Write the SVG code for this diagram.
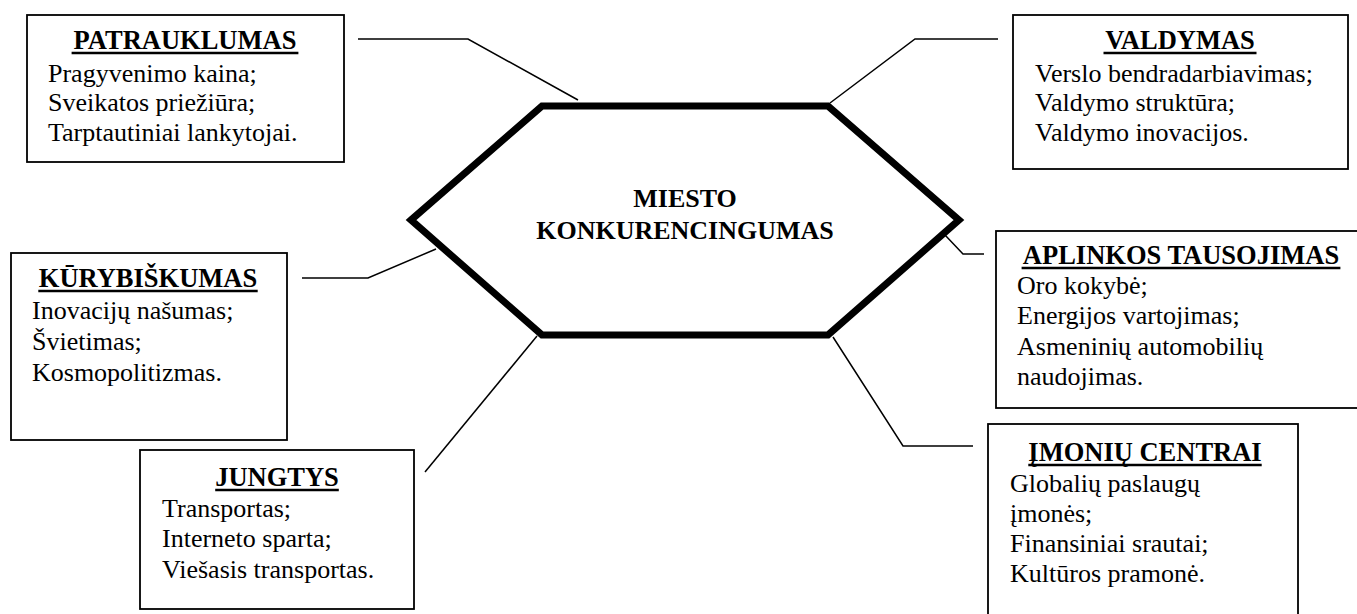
<svg xmlns="http://www.w3.org/2000/svg" width="1357" height="614" viewBox="0 0 1357 614">
<style>
.box{fill:#fff;stroke:#000;stroke-width:1.8}
.hex{fill:#fff;stroke:#000;stroke-width:7;stroke-linejoin:miter}
.con{fill:none;stroke:#000;stroke-width:1.5}
.ul{stroke:#000;stroke-width:2.4}
text{font-family:"Liberation Serif","Times New Roman",serif;fill:#000}
.t{font-size:26.5px;font-weight:bold;text-anchor:middle}
.b{font-size:26px}
.c{font-size:26px;font-weight:bold;text-anchor:middle}
</style>
<rect width="1357" height="614" fill="#fff"/>
<g id="connectors">
<polyline class="con" points="358,39 468,39 578,100"/>
<polyline class="con" points="998,39 915,39 830,103"/>
<polyline class="con" points="302,278 368,278 436,249"/>
<polyline class="con" points="425,472 537,336"/>
<polyline class="con" points="945,235 963,254 984,254"/>
<polyline class="con" points="833,337 903,446 973,446"/>
</g>
<g id="center">
<polygon class="hex" points="411,220 542,106 828,106 959,220 828,335 542,335"/>
<text class="c" x="685" y="207">MIESTO</text>
<text class="c" x="685" y="239">KONKURENCINGUMAS</text>
</g>
<g id="patrauklumas">
<rect class="box" x="27" y="15" width="317" height="147"/>
<text class="t" x="185" y="49">PATRAUKLUMAS</text>
<line class="ul" x1="71.6" y1="53" x2="298.4" y2="53"/>
<text class="b" x="48" y="82">Pragyvenimo kaina;</text>
<text class="b" x="48" y="111">Sveikatos priežiūra;</text>
<text class="b" x="48" y="141">Tarptautiniai lankytojai.</text>
</g>
<g id="valdymas">
<rect class="box" x="1013" y="15" width="335" height="154"/>
<text class="t" x="1180" y="49">VALDYMAS</text>
<line class="ul" x1="1103.5" y1="53" x2="1256.5" y2="53"/>
<text class="b" x="1035" y="82">Verslo bendradarbiavimas;</text>
<text class="b" x="1035" y="111">Valdymo struktūra;</text>
<text class="b" x="1035" y="141">Valdymo inovacijos.</text>
</g>
<g id="kurybiskumas">
<rect class="box" x="11" y="253" width="276" height="187"/>
<text class="t" x="148" y="287">KŪRYBIŠKUMAS</text>
<line class="ul" x1="38.3" y1="291" x2="257.7" y2="291"/>
<text class="b" x="32" y="319">Inovacijų našumas;</text>
<text class="b" x="32" y="350">Švietimas;</text>
<text class="b" x="32" y="381">Kosmopolitizmas.</text>
</g>
<g id="jungtys">
<rect class="box" x="140" y="450" width="274" height="159"/>
<text class="t" x="277" y="486">JUNGTYS</text>
<line class="ul" x1="215.2" y1="490" x2="338.8" y2="490"/>
<text class="b" x="162" y="517">Transportas;</text>
<text class="b" x="162" y="547">Interneto sparta;</text>
<text class="b" x="162" y="578">Viešasis transportas.</text>
</g>
<g id="aplinkos">
<rect class="box" x="996" y="231" width="370" height="177"/>
<text class="t" x="1181" y="264">APLINKOS TAUSOJIMAS</text>
<line class="ul" x1="1021.6" y1="268" x2="1340.4" y2="268"/>
<text class="b" x="1017" y="294">Oro kokybė;</text>
<text class="b" x="1017" y="324">Energijos vartojimas;</text>
<text class="b" x="1017" y="355">Asmeninių automobilių</text>
<text class="b" x="1017" y="385">naudojimas.</text>
</g>
<g id="imoniu">
<rect class="box" x="988" y="424" width="310" height="200"/>
<text class="t" x="1145" y="461">ĮMONIŲ CENTRAI</text>
<line class="ul" x1="1028.3" y1="465" x2="1261.7" y2="465"/>
<text class="b" x="1010" y="492">Globalių paslaugų</text>
<text class="b" x="1010" y="522">įmonės;</text>
<text class="b" x="1010" y="552">Finansiniai srautai;</text>
<text class="b" x="1010" y="582">Kultūros pramonė.</text>
</g>
</svg>
